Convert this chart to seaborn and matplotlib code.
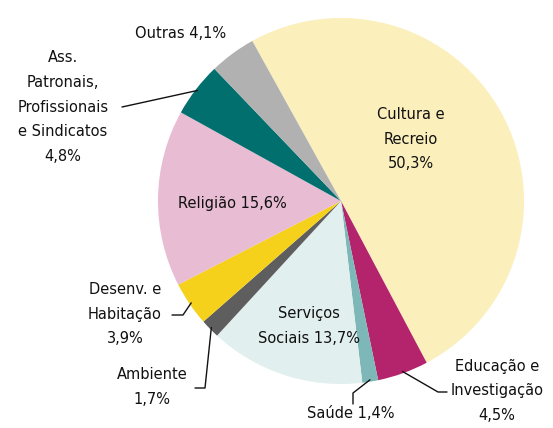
import numpy as np
import matplotlib
matplotlib.use("Agg")
from matplotlib import pyplot as plt
import seaborn as sns

# data (clockwise from the top-left)
categories = ["Cultura e Recreio", "Educação e Investigação", "Saúde", "Serviços Sociais",
              "Ambiente", "Desenv. e Habitação", "Religião",
              "Ass. Patronais, Profissionais e Sindicatos", "Outras"]
shares = [50.3, 4.5, 1.4, 13.7, 1.7, 3.9, 15.6, 4.8, 4.1]
label_texts = ["Cultura e\nRecreio\n50,3%", "Educação e\nInvestigação\n4,5%", "Saúde 1,4%",
               "Serviços\nSociais 13,7%", "Ambiente\n1,7%", "Desenv. e\nHabitação\n3,9%",
               "Religião 15,6%", "Ass.\nPatronais,\nProfissionais\ne Sindicatos\n4,8%",
               "Outras 4,1%"]
colors = ["#FBEFBC", "#B3246D", "#7DB7B7", "#E2EFEF", "#5E5E5E",
          "#F5D11B", "#E8BCD3", "#006F6E", "#B1B1B1"]

sns.set_theme(style="white")
plt.rcParams['font.family'] = ['DejaVu Sans']

W, H = 553, 428
fig = plt.figure(figsize=(W / 100, H / 100), dpi=100)
ax = fig.add_axes([0, 0, 1, 1])

cx, cy, r = 341, 201, 183

# y axis is inverted, so counterclock=True draws clockwise on screen
wedges, _ = ax.pie(shares, colors=colors, startangle=-119, counterclock=True,
                   center=(cx, cy), radius=r, frame=True,
                   wedgeprops=dict(linewidth=0))
ax.set_xlim(0, W)
ax.set_ylim(H, 0)
ax.set_aspect("equal")
ax.axis("off")


def edge_point(w, frac=1.0):
    mid = np.deg2rad((w.theta1 + w.theta2) / 2)
    return cx + r * frac * np.cos(mid), cy + r * frac * np.sin(mid)


fs = 10.5
ls = 1.8
# labels inside the pie
inside = {0: (411, 139), 6: (232, 203), 3: (309, 326)}
for i, (x, y) in inside.items():
    ax.text(x, y, label_texts[i], ha="center", va="center", fontsize=fs,
            linespacing=ls, color="#111111")

# labels outside with connectors: (text pos, elbow points)
outside = {
    8: ((181, 33), None),
    7: ((63, 107), [(122, 107)]),
    5: ((125, 314), [(172, 315), (183, 315)]),
    4: ((152, 387), [(195, 388), (205, 388)]),
    2: ((351, 413), [(353, 404), (353, 393)]),
    1: ((497, 391), [(447, 392), (438, 392)]),
}
for i, ((x, y), pts) in outside.items():
    ax.text(x, y, label_texts[i], ha="center", va="center", fontsize=fs,
            linespacing=ls, color="#111111")
    if pts:
        ex, ey = edge_point(wedges[i], 0.99)
        xs = [p[0] for p in pts] + [ex]
        ys = [p[1] for p in pts] + [ey]
        ax.plot(xs, ys, color="#111111", lw=1)

fig.savefig("out.png", dpi=100)
